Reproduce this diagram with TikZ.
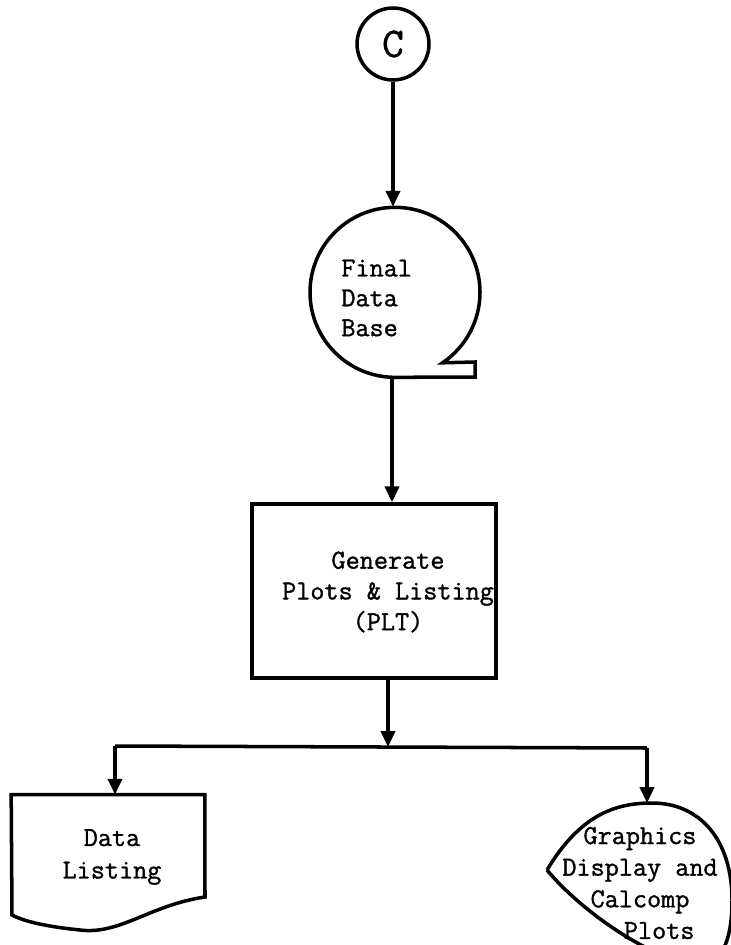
\documentclass[tikz,border=0pt]{standalone}
\usepackage{fontspec}
\setmonofont{Latin Modern Mono}[FakeBold=1.2]
\usepackage{tikz}
\usetikzlibrary{arrows.meta}

\tikzset{
  flow/.style={line width=2pt},
  arr/.style={flow,-{Triangle[length=9pt,width=8pt]}},
  lbl/.style={font=\ttfamily\fontsize{15.6pt}{17pt}\selectfont,align=center,inner sep=0pt}
}

\begin{document}
\begin{tikzpicture}[x=0.02cm,y=0.02cm]
\useasboundingbox (0,0) rectangle (730,-945);
% connector and tape
\node[draw,flow,circle,minimum size=1.44cm,font=\ttfamily\fontsize{24pt}{24pt}\selectfont] (conn) at (393,-44) {C};
\node[circle,minimum size=3.4cm,inner sep=0pt] (base) at (395,-292) {};
\draw[flow] (base.south) arc[start angle=-90,end angle=-416,radius=85]
  -- (475,-362) -- (475,-377) -- (base.south);
\node[lbl,align=left,anchor=west] (basetxt) at (341,-298) {Final\\Data\\Base};
% process box
\node[draw,flow,minimum width=4.88cm,minimum height=3.48cm] (gen) at (374,-591) {};
\node[lbl,font=\ttfamily\fontsize{15.6pt}{17.5pt}\selectfont] (gentxt) at (388,-592) {Generate\\Plots \& Listing\\(PLT)};
% outputs
\node[minimum width=3.86cm,minimum height=2.4cm,inner sep=0pt] (listing) at (108,-855) {};
\draw[flow] (listing.north west) -- (listing.north east) -- (205,-897)
  .. controls (150,-905) and (120,-935) .. (80,-930)
  .. controls (50,-927) and (25,-922) .. (12,-915) -- cycle;
\node[lbl,font=\ttfamily\fontsize{15.6pt}{18.5pt}\selectfont] (listtxt) at (112,-857) {Data\\Listing};
\coordinate (gtop) at (652,-803);
\draw[flow] (547,-870) .. controls (580,-815) and (615,-803) .. (gtop)
  .. controls (700,-803) and (732,-840) .. (732,-900)
  .. controls (732,-945) and (720,-962) .. (700,-966)
  .. controls (650,-960) and (580,-910) .. (547,-870);
\node[lbl,font=\ttfamily\fontsize{15.6pt}{18pt}\selectfont] (gfx) at (640,-883) {Graphics\\Display and\\Calcomp\\\hspace*{1.4em}Plots};
% connectors
\coordinate (split) at (388,-747);
\coordinate (lft) at (115,-746);
\coordinate (rgt) at (647,-748);
\draw[arr] (conn) -- (base.north -| conn);
\draw[arr] (base.south -| 392,0) -- (gen.north -| 392,0);
\draw[arr] (gen.south -| split) -- (split);
\draw[flow] (lft) -- (rgt);
\draw[arr] (lft) -- (listing.north -| lft);
\draw[arr] (rgt) -- (rgt |- gtop);
\end{tikzpicture}
\end{document}
